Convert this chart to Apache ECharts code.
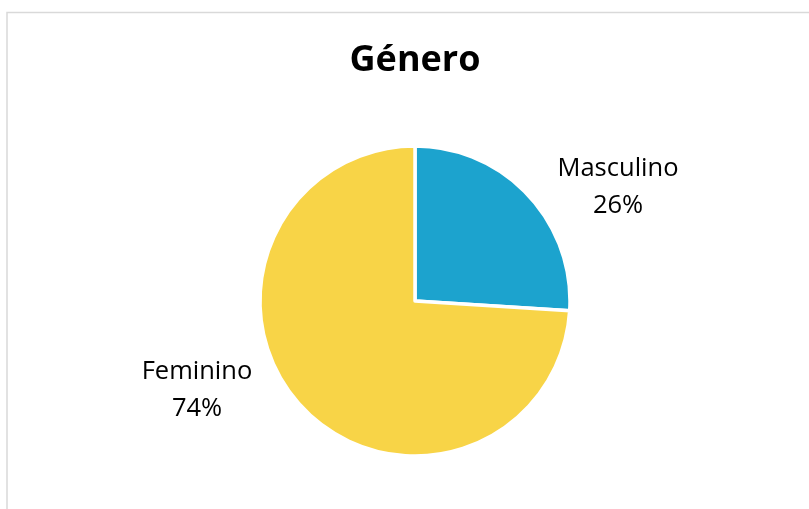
<!DOCTYPE html>
<html>
<head>
<meta charset="utf-8">
<script src="https://cdn.jsdelivr.net/npm/echarts@6/dist/echarts.min.js"></script>
<style>
  html, body { margin: 0; padding: 0; background: #ffffff; }
  #chart { width: 809px; height: 509px; }
</style>
</head>
<body>
<div id="chart"></div>
<script>
// Gender split, in percent
const categories = ['Masculino', 'Feminino'];
const shares = [26, 74];
const colors = ['#1ca3ce', '#f8d447'];

const chartTitle = 'Género';

// Label anchor points (centre of each two-line label)
const labelSpots = [[618, 187], [197, 390]];

const chart = echarts.init(document.getElementById('chart'), null, { renderer: 'canvas' });

chart.setOption({
  animation: false,
  backgroundColor: '#ffffff',
  graphic: [{
    type: 'rect',
    shape: { x: 7, y: 12.5, width: 900, height: 600 },
    style: { fill: 'none', stroke: '#d9d9d9', lineWidth: 1.5 },
    silent: true,
    z: -1
  }, {
    type: 'text',
    x: 415,
    y: 61,
    style: {
      text: chartTitle,
      fontFamily: 'Open Sans',
      fontWeight: 'bold',
      fontSize: 36,
      fill: '#000000',
      align: 'center',
      verticalAlign: 'middle'
    },
    silent: true
  }],
  series: [{
    type: 'pie',
    center: [415, 301],
    radius: [0, 155],
    startAngle: 90,
    clockwise: true,
    itemStyle: { borderColor: '#ffffff', borderWidth: 3.5 },
    label: {
      show: true,
      position: 'outside',
      formatter: p => p.name + '\n' + p.value + '%',
      fontFamily: 'Open Sans',
      fontSize: 25.5,
      lineHeight: 37,
      color: '#000000',
      align: 'center'
    },
    labelLine: { show: false },
    labelLayout: p => ({
      x: labelSpots[p.dataIndex][0],
      y: labelSpots[p.dataIndex][1],
      align: 'center',
      verticalAlign: 'middle'
    }),
    emphasis: { disabled: true },
    data: categories.map((c, i) => ({
      name: c,
      value: shares[i],
      itemStyle: { color: colors[i] }
    }))
  }]
});
</script>
</body>
</html>
